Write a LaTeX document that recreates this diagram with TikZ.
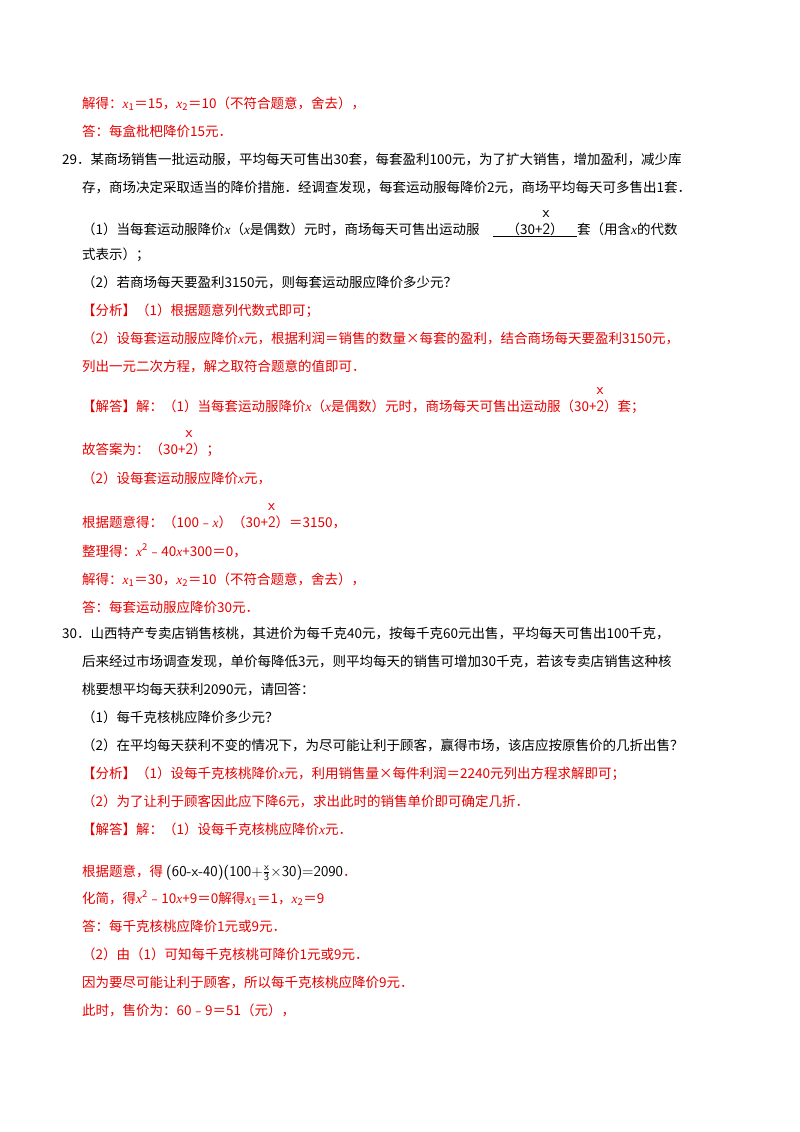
\documentclass[tikz,border=0pt]{standalone}
\usepackage{fontspec}
\setmainfont{Noto Sans CJK SC}
\newfontfamily\lat{Liberation Serif}
\definecolor{rd}{RGB}{230,0,0}
\newcommand{\fr}[2]{{\fontsize{16}{16}\selectfont\rlap{\raisebox{17pt}{\textsf{#1}}}\textsf{#2}}}
\newcommand{\xx}{{\lat\itshape x}}
\begin{document}
\begin{tikzpicture}[x=1pt,y=-1pt,
  t/.style={anchor=base west,inner sep=0pt,font=\fontsize{13.5}{14}\selectfont},
  r/.style={t,text=rd}]
\useasboundingbox (0,0) rectangle (800,1132);
\node[r] (l1) at (82,108) {解得：\xx\textsubscript{1}＝15，\xx\textsubscript{2}＝10（不符合题意，舍去），};
\node[r] (l2) at (82,136) {答：每盒枇杷降价15元．};
\node[t] (l3) at (62,164) {29．某商场销售一批运动服，平均每天可售出30套，每套盈利100元，为了扩大销售，增加盈利，减少库};
\node[t] (l4) at (82,192) {存，商场决定采取适当的降价措施．经调查发现，每套运动服每降价2元，商场平均每天可多售出1套．};
\node[t] (l5) at (82,234) {（1）当每套运动服降价\xx（\xx 是偶数）元时，商场每天可售出运动服\quad\underline{\quad（30+\fr{x}{2}）\quad}套（用含\xx 的代数};
\node[t] (l6) at (82,259) {式表示）；};
\node[t] (l7) at (82,287) {（2）若商场每天要盈利3150元，则每套运动服应降价多少元？};
\node[r] (l8) at (82,315) {【分析】（1）根据题意列代数式即可；};
\node[r] (l9) at (82,343) {（2）设每套运动服应降价\xx 元，根据利润＝销售的数量×每套的盈利，结合商场每天要盈利3150元，};
\node[r] (l10) at (82,371) {列出一元二次方程，解之取符合题意的值即可．};
\node[r] (l11) at (82,411) {【解答】解：（1）当每套运动服降价\xx（\xx 是偶数）元时，商场每天可售出运动服（30+\fr{x}{2}）套；};
\node[r] (l12) at (82,454) {故答案为：（30+\fr{x}{2}）；};
\node[r] (l13) at (82,483) {（2）设每套运动服应降价\xx 元，};
\node[r] (l14) at (82,527) {根据题意得：（100﹣\xx）（30+\fr{x}{2}）＝3150，};
\node[r] (l15) at (82,556) {整理得：\xx\textsuperscript{2}﹣40\xx+300＝0，};
\node[r] (l16) at (82,584) {解得：\xx\textsubscript{1}＝30，\xx\textsubscript{2}＝10（不符合题意，舍去），};
\node[r] (l17) at (82,612) {答：每套运动服应降价30元．};
\node[t] (l18) at (62,638) {30．山西特产专卖店销售核桃，其进价为每千克40元，按每千克60元出售，平均每天可售出100千克，};
\node[t] (l19) at (82,666) {后来经过市场调查发现，单价每降低3元，则平均每天的销售可增加30千克，若该专卖店销售这种核};
\node[t] (l20) at (82,694) {桃要想平均每天获利2090元，请回答：};
\node[t] (l21) at (82,722) {（1）每千克核桃应降价多少元？};
\node[t] (l22) at (82,750) {（2）在平均每天获利不变的情况下，为尽可能让利于顾客，赢得市场，该店应按原售价的几折出售？};
\node[r] (l23) at (82,778) {【分析】（1）设每千克核桃降价\xx 元，利用销售量×每件利润＝2240元列出方程求解即可；};
\node[r] (l24) at (82,806) {（2）为了让利于顾客因此应下降6元，求出此时的销售单价即可确定几折．};
\node[r] (l25) at (82,834) {【解答】解：（1）设每千克核桃应降价\xx 元．};
\node[r] (l26) at (82,876) {根据题意，得 \textcolor{black}{\fontsize{15}{15}\selectfont\textsf{(60-x-40)(100+$\frac{\mathsf{x}}{\mathsf{3}}$×30)=2090}}．};
\node[r] (l27) at (82,903) {化简，得\xx\textsuperscript{2}﹣10\xx+9＝0解得\xx\textsubscript{1}＝1，\xx\textsubscript{2}＝9};
\node[r] (l28) at (82,931) {答：每千克核桃应降价1元或9元．};
\node[r] (l29) at (82,959) {（2）由（1）可知每千克核桃可降价1元或9元．};
\node[r] (l30) at (82,987) {因为要尽可能让利于顾客，所以每千克核桃应降价9元．};
\node[r] (l31) at (82,1015) {此时，售价为：60﹣9＝51（元），};
\end{tikzpicture}
\end{document}
